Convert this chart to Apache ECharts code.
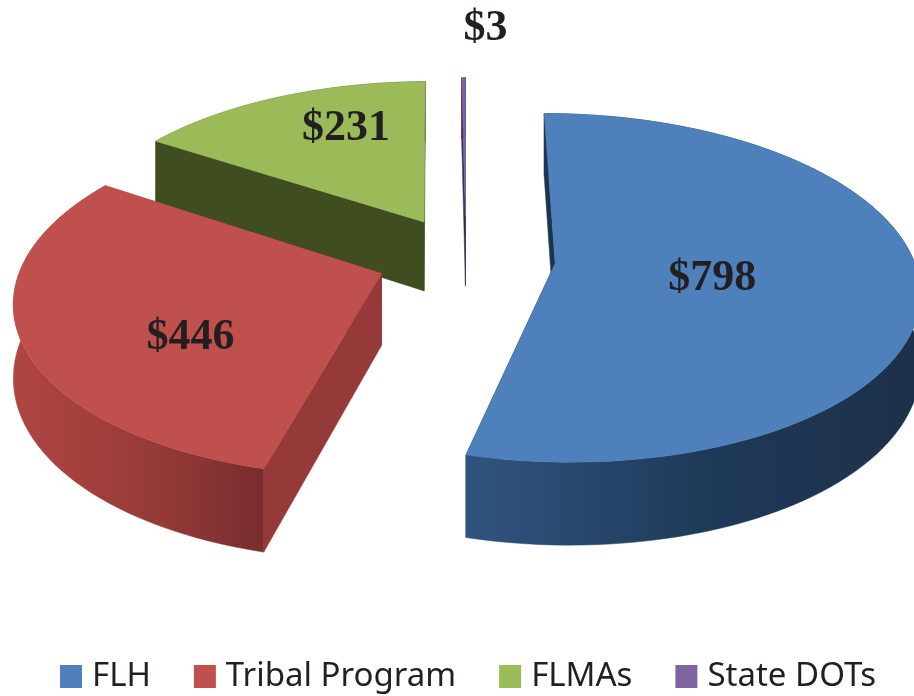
<!DOCTYPE html>
<html>
<head>
<meta charset="utf-8">
<title>Funding by program</title>
<style>
  html, body { margin: 0; padding: 0; background: #ffffff; }
  #chart { width: 914px; height: 696px; }
</style>
<script src="https://cdn.jsdelivr.net/npm/echarts@6/dist/echarts.min.js"></script>
</head>
<body>
<div id="chart"></div>
<script>
const categories = ["FLH", "Tribal Program", "FLMAs", "State DOTs"];
const amounts = [798, 446, 231, 3];

const topColors = ["#4e80bc", "#c0504d", "#9bbb59", "#8064a2"];
const faceColors = ["#1d3450", "#953a39", "#3f4d1f", "#3b2a52"];
const wallStops = [
  ["#30547f", "#1e3957", "#1d3049"],
  ["#b04542", "#963b39", "#782c2c"],
  ["#5d7035", "#4a5a27", "#3f4d1f"],
  ["#4c3a66", "#3b2a52", "#3b2a52"],
];
// where the value text sits relative to each slice's tip, in pixels
const labelOffsets = [[157, 15], [-191, 64], [-78, -93], [20, -188]];

// pie projection: radii, vanishing centre, perspective strength, thickness, explosion
const RADIUS_X = 358;
const RADIUS_Y = 169.4;
const CENTER_X = 466;
const CENTER_Y = 258;
const PERSPECTIVE = 0.14;
const THICKNESS = 71;
const EXPLODE = 0.25;
const ARC_STEP = Math.PI / 90;

const total = amounts.reduce((sum, v) => sum + v, 0);

function project(x, y, drop) {
  const scale = 1 / (1 + PERSPECTIVE * y);
  return [
    CENTER_X + RADIUS_X * x * scale,
    CENTER_Y - RADIUS_Y * y * scale + THICKNESS * drop * scale,
  ];
}

function sliceAngles(index) {
  const before = amounts.slice(0, index).reduce((sum, v) => sum + v, 0);
  const start = (before / total) * Math.PI * 2;
  const end = ((before + amounts[index]) / total) * Math.PI * 2;
  return { start, end, mid: (start + end) / 2 };
}

function arcPoints(tip, start, end, drop) {
  const points = [];
  const steps = Math.max(2, Math.ceil((end - start) / ARC_STEP));
  for (let i = 0; i <= steps; i += 1) {
    const angle = start + ((end - start) * i) / steps;
    points.push(project(tip[0] + Math.sin(angle), tip[1] + Math.cos(angle), drop));
  }
  return points;
}

function signedArea(points) {
  let area = 0;
  points.forEach((p, i) => {
    const q = points[(i + 1) % points.length];
    area += p[0] * q[1] - q[0] * p[1];
  });
  return area;
}

function polygon(points, fill) {
  return {
    type: "polygon",
    shape: { points },
    style: { fill, stroke: fill, lineWidth: 0.5 },
  };
}

function renderSlice(index) {
  const { start, end, mid } = sliceAngles(index);
  const tip = [EXPLODE * Math.sin(mid), EXPLODE * Math.cos(mid)];
  const tipTop = project(tip[0], tip[1], 0);
  const tipBottom = project(tip[0], tip[1], 1);
  const arcTop = arcPoints(tip, start, end, 0);
  const arcBottom = arcPoints(tip, start, end, 1);
  const last = arcTop.length - 1;
  const stops = wallStops[index];
  const wallFill = new echarts.graphic.LinearGradient(0, 0, 1, 0, [
    { offset: 0, color: stops[0] },
    { offset: 0.55, color: stops[1] },
    { offset: 1, color: stops[2] },
  ]);
  const offset = labelOffsets[index];

  const startFace = [tipTop, arcTop[0], arcBottom[0], tipBottom];
  const endFace = [tipTop, arcTop[last], arcBottom[last], tipBottom];
  const startVisible = signedArea(startFace) < 0;
  const endVisible = signedArea(endFace) > 0;
  const wall = polygon(arcTop.concat(arcBottom.slice().reverse()), wallFill);
  const startShape = polygon(startFace, faceColors[index]);
  const endShape = polygon(endFace, faceColors[index]);

  // faces turned away from the viewer go under the wall, the others over it
  const children = [];
  if (!startVisible) children.push(startShape);
  if (!endVisible) children.push(endShape);
  children.push(wall);
  if (startVisible) children.push(startShape);
  if (endVisible) children.push(endShape);
  children.push(polygon([tipTop].concat(arcTop), topColors[index]));
  children.push({
    type: "text",
    style: {
      text: `$${amounts[index]}`,
      x: tipTop[0] + offset[0],
      y: tipTop[1] + offset[1],
      fill: "#231f20",
      font: 'bold 44px "Liberation Serif", serif',
      align: "center",
      verticalAlign: "middle",
    },
  });

  return { type: "group", children };
}

// painted back to front
const drawOrder = [2, 3, 1, 0];

const chart = echarts.init(document.getElementById("chart"));
chart.setOption({
  animation: false,
  legend: {
    data: categories,
    left: 55,
    bottom: -2,
    icon: "rect",
    itemWidth: 22,
    itemHeight: 23,
    itemGap: 43,
    selectedMode: false,
    textStyle: {
      color: "#231f20",
      fontFamily: '"Noto Sans", sans-serif',
      fontSize: 33,
      padding: [0, 0, 0, 5],
    },
  },
  series: drawOrder.map((index) => ({
    type: "custom",
    name: categories[index],
    coordinateSystem: "none",
    silent: true,
    itemStyle: { color: topColors[index] },
    data: [amounts[index]],
    renderItem: () => renderSlice(index),
  })),
});
</script>
</body>
</html>
